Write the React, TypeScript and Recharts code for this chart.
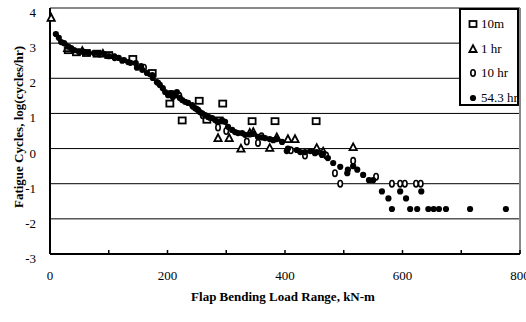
import { ScatterChart, Scatter, XAxis, YAxis, ReferenceLine } from 'recharts'

// [load kN-m, log(cycles/hr)]
const TEN_MIN: [number, number][] = [
  [31, 2.8], [45, 2.74], [62, 2.72], [80, 2.7], [100, 2.66], [141, 2.55], [174, 2.15],
  [204, 1.28], [225, 0.8], [254, 1.36], [267, 0.82], [288, 0.8], [294, 1.28],
  [344, 0.78], [383, 0.78], [453, 0.78],
]
const ONE_HR: [number, number][] = [
  [2, 3.72], [30, 2.86], [55, 2.78], [90, 2.7], [286, 0.3], [305, 0.3], [325, 0.0],
  [340, 0.45], [346, 0.47], [374, 0.02], [386, 0.32], [405, 0.27], [417, 0.27],
  [454, 0.02], [465, -0.08], [516, 0.04],
]
const TEN_HR: [number, number][] = [
  [110, 2.6], [160, 2.3], [220, 1.5], [260, 0.95], [286, 0.6], [300, 0.5], [335, 0.2],
  [354, 0.16], [360, 0.35], [410, -0.05], [434, -0.2], [470, -0.2], [485, -0.7],
  [494, -1.0], [516, -0.35], [555, -0.8], [582, -1.0], [596, -1.0], [604, -1.0],
  [623, -1.0], [631, -1.0],
]
const FIFTY_FOUR_HR: [number, number][] = [
  [10, 3.26], [15, 3.15], [19, 3.03], [24, 3.0], [31, 2.9], [36, 2.86], [41, 2.8],
  [49, 2.76], [58, 2.75], [66, 2.72], [75, 2.72], [83, 2.7], [92, 2.69], [100, 2.63],
  [109, 2.61], [117, 2.58], [123, 2.5], [126, 2.52], [133, 2.46], [137, 2.44],
  [146, 2.43], [148, 2.3], [155, 2.35], [157, 2.24], [165, 2.15], [174, 2.09],
  [175, 2.01], [182, 1.89], [184, 1.87], [187, 1.81], [192, 1.72], [196, 1.61],
  [201, 1.52], [204, 1.58], [208, 1.58], [209, 1.47], [213, 1.52], [216, 1.61],
  [221, 1.44], [225, 1.38], [230, 1.33], [235, 1.3], [242, 1.24], [243, 1.2],
  [247, 1.15], [250, 1.12], [252, 1.1], [255, 1.04], [259, 1.0], [264, 0.95],
  [269, 0.9], [272, 0.88], [276, 0.87], [281, 0.81], [286, 0.76], [293, 0.8],
  [298, 0.76], [303, 0.62], [310, 0.53], [315, 0.47], [320, 0.44], [327, 0.44],
  [332, 0.39], [340, 0.4], [346, 0.42], [354, 0.33], [361, 0.32], [366, 0.3],
  [374, 0.27], [380, 0.24], [386, 0.27], [395, 0.19], [403, -0.07], [405, 0.0],
  [420, -0.04], [426, -0.1], [434, -0.1], [443, -0.07], [451, -0.13], [454, -0.1],
  [463, -0.18], [465, -0.15], [473, -0.27], [482, -0.41], [494, -0.52], [506, -0.7],
  [507, -0.6], [516, -0.5], [523, -0.6], [533, -0.75], [543, -0.9], [550, -0.9],
  [565, -1.22], [576, -1.42], [582, -1.72], [596, -1.22], [606, -1.42], [613, -1.72],
  [625, -1.72], [632, -1.22], [644, -1.72], [653, -1.72], [662, -1.72], [674, -1.72],
  [715, -1.72], [776, -1.72],
]

const X_TICKS = [0, 100, 200, 300, 400, 500, 600, 700, 800]
const Y_TICKS = [-3, -2, -1, 0, 1, 2, 3, 4]
const GRID_Y = [-2, -1, 0, 1, 2, 3]
const LEGEND = ['10m', '1 hr', '10 hr', '54.3 hr']

const FONT = '"Liberation Serif", "Times New Roman", serif'
const toPoints = (arr: [number, number][]) => arr.map(([x, y]) => ({ x, y }))

const Square = ({ cx, cy }: any) => (
  <rect x={cx - 3.5} y={cy - 3} width={7} height={6} fill="#fff" stroke="#000" strokeWidth={1.8} />
)
const Triangle = ({ cx, cy }: any) => (
  <path d={`M${cx},${cy - 3.8}L${cx + 3.6},${cy + 3}L${cx - 3.6},${cy + 3}Z`} fill="#fff" stroke="#000" strokeWidth={1.8} />
)
const Oval = ({ cx, cy }: any) => (
  <ellipse cx={cx} cy={cy} rx={2.2} ry={3.2} fill="#fff" stroke="#000" strokeWidth={1.6} />
)
const Dot = ({ cx, cy }: any) => <circle cx={cx} cy={cy} r={3.1} fill="#000" />

const SHAPES = [Square, Triangle, Oval, Dot]

const XTick = ({ x, y, payload }: any) => (
  <g>
    <line x1={x} x2={x} y1={y} y2={y - 4} stroke="#000" strokeWidth={1.5} />
    {payload.value % 200 === 0 && (
      <text x={x} y={y + 26} textAnchor="middle" fontSize={13} fontFamily={FONT} fill="#000">
        {payload.value}
      </text>
    )}
  </g>
)

const YTick = ({ x, y, payload }: any) => (
  <text x={x - 14} y={y + 9} textAnchor="end" fontSize={13} fontFamily={FONT} fill="#000">
    {payload.value}
  </text>
)

export default function App() {
  return (
    <div style={{ position: 'relative', width: 526, height: 322, background: '#fff' }}>
      <style>{`body{margin:0}`}</style>
      <ScatterChart width={526} height={322} margin={{ top: 8, right: 6, bottom: 38, left: 0 }}>
        {GRID_Y.map(v => (
          <ReferenceLine key={v} y={v} stroke="#000" strokeWidth={1} />
        ))}
        <ReferenceLine y={4} stroke="#888" strokeWidth={2} />
        <ReferenceLine x={800} stroke="#888" strokeWidth={2} />
        <XAxis
          type="number"
          dataKey="x"
          domain={[0, 800]}
          ticks={X_TICKS}
          interval={0}
          tickSize={0}
          tickMargin={0}
          tickLine={false}
          axisLine={{ stroke: '#000', strokeWidth: 2 }}
          tick={<XTick />}
          height={30}
          label={() => (
            <text x={283} y={301} textAnchor="middle" fontSize={13} fontWeight="bold" fontFamily={FONT} fill="#000">
              Flap Bending Load Range, kN-m
            </text>
          )}
        />
        <YAxis
          type="number"
          dataKey="y"
          domain={[-3, 4]}
          ticks={Y_TICKS}
          interval={0}
          tickSize={0}
          tickMargin={0}
          tickLine={false}
          axisLine={{ stroke: '#000', strokeWidth: 2 }}
          tick={<YTick />}
          width={50}
          label={() => (
            <text
              transform="translate(18,127) rotate(-90)"
              textAnchor="middle"
              dominantBaseline="central"
              fontSize={13}
              fontWeight="bold"
              fontFamily={FONT}
              fill="#000"
            >
              Fatigue Cycles, log(cycles/hr)
            </text>
          )}
        />
        <Scatter name="10m" data={toPoints(TEN_MIN)} shape={Square} isAnimationActive={false} />
        <Scatter name="1 hr" data={toPoints(ONE_HR)} shape={Triangle} isAnimationActive={false} />
        <Scatter name="10 hr" data={toPoints(TEN_HR)} shape={Oval} isAnimationActive={false} />
        <Scatter name="54.3 hr" data={toPoints(FIFTY_FOUR_HR)} shape={Dot} isAnimationActive={false} />
      </ScatterChart>

      <div
        style={{
          position: 'absolute',
          left: 459,
          top: 8,
          width: 56,
          height: 94,
          border: '2px solid #000',
          background: '#fff',
          overflow: 'hidden',
          fontFamily: FONT,
          fontSize: 13,
        }}
      >
        {LEGEND.map((name, i) => {
          const Shape = SHAPES[i]
          return (
            <div key={name} style={{ position: 'absolute', left: 0, top: 6 + i * 24.5, height: 16, display: 'flex', alignItems: 'center', whiteSpace: 'nowrap' }}>
              <svg width={18} height={16} style={{ flex: 'none' }}>
                <Shape cx={12} cy={8} />
              </svg>
              <span style={{ marginLeft: 2 }}>{name}</span>
            </div>
          )
        })}
      </div>
    </div>
  )
}
